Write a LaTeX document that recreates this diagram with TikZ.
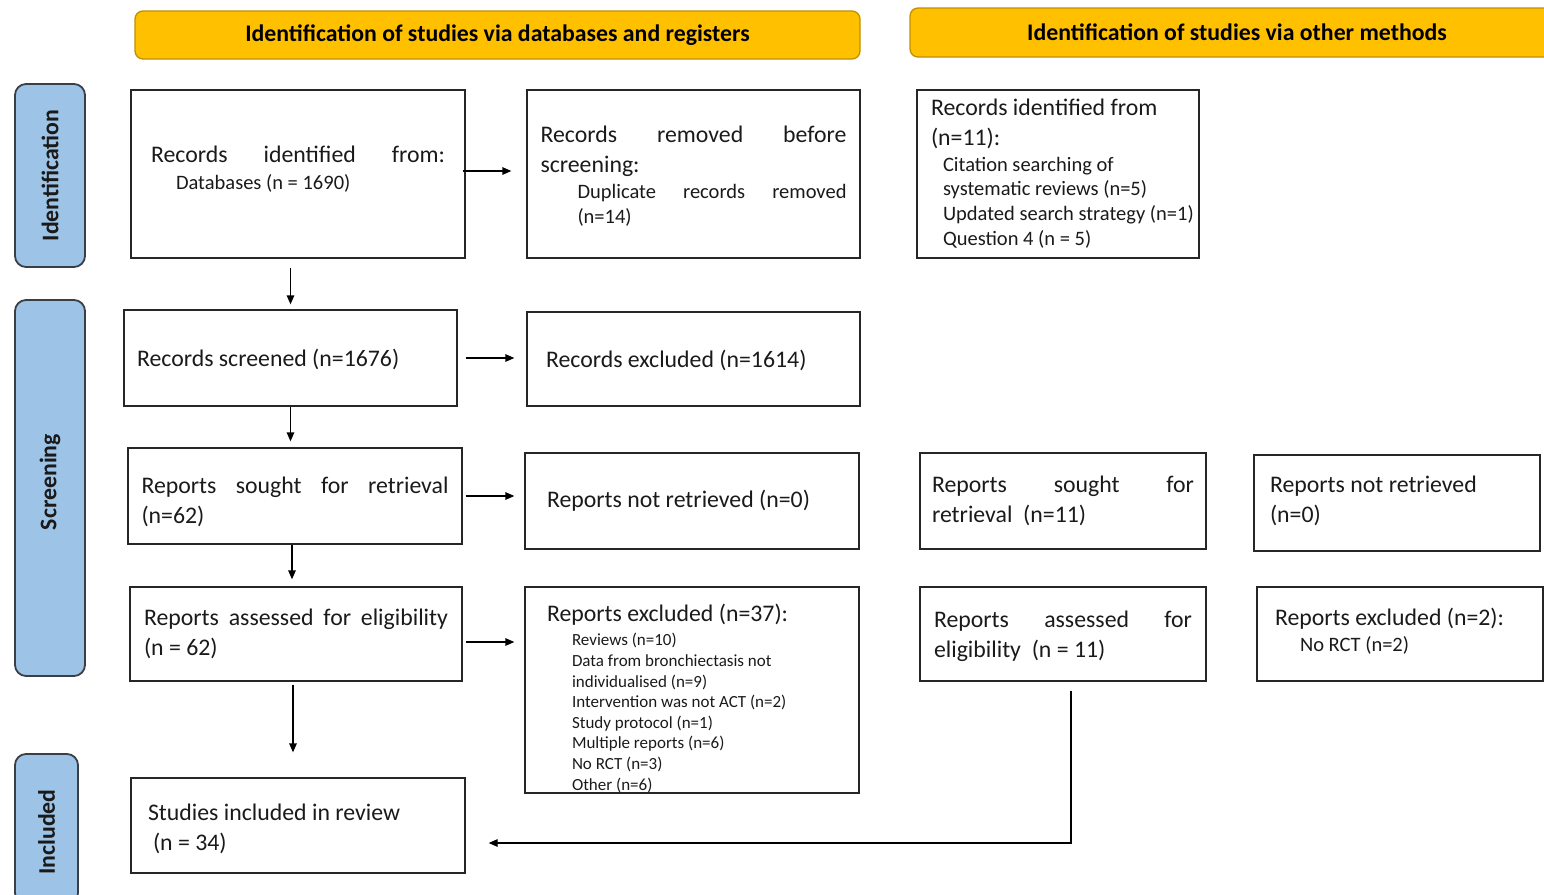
\documentclass[tikz,border=0pt]{standalone}
\usepackage{fontspec}
\setmainfont{Carlito}
\usetikzlibrary{arrows.meta,calc}
\definecolor{hdrfill}{HTML}{FFC000}
\definecolor{hdrline}{HTML}{BF9000}
\definecolor{sidefill}{HTML}{9DC3E6}
\definecolor{sideline}{HTML}{3A3F46}
\definecolor{txt}{HTML}{1A1A1A}
\newcommand{\mainsz}{\fontsize{23.8}{30}\selectfont}
\newcommand{\smallsz}{\fontsize{20.5}{24.6}\selectfont}
\newcommand{\tinysz}{\fontsize{17}{20.6}\selectfont}
\begin{document}
\begin{tikzpicture}[x=1pt,y=-1pt,
  box/.style={draw=black!85, line width=1.3pt, rectangle, inner sep=0pt, align=left, font=\mainsz, text=txt,
    execute at begin node={\spaceskip=0pt\xspaceskip=0pt}},
  hdr/.style={draw=hdrline, fill=hdrfill, line width=1.3pt, rounded corners=8pt, inner sep=0pt, font=\mainsz\bfseries, text=black},
  side/.style={draw=sideline, fill=sidefill, line width=1.8pt, rounded corners=11pt, inner sep=0pt, font=\mainsz\bfseries, text=txt},
  arr/.style={-{Triangle[length=9pt,width=7.5pt]}, line width=1.3pt, draw=black}
]
\useasboundingbox (0,0) rectangle (1544,894);
\clip (0,0) rectangle (1544,894);

% headers
\node[hdr, minimum width=725pt, minimum height=48pt] (h1) at (497.5,35) {Identification of studies via databases and registers};
\node[hdr, minimum width=654pt, minimum height=49pt] (h2) at (1237,32.5) {Identification of studies via other methods};

% side labels
\node[side, rotate=90, minimum width=183pt, minimum height=70pt] (s1) at (50,175.5) {Identification};
\node[side, rotate=90, minimum width=376pt, minimum height=70pt] (s2) at (50,488) {\hspace*{12pt}Screening};
\node[side, rotate=90, minimum width=150pt, minimum height=63pt] (s3) at (46.5,829) {Included\hspace*{6pt}};

% left column
\node[box, minimum width=334pt, minimum height=168pt, text width=294pt] (b1) at (298,174)
  {\makebox[294pt][s]{Records identified from:}\\[2pt]
   \smallsz\hspace*{25pt}Databases (n = 1690)\par\kern10pt};
\node[box, minimum width=333pt, minimum height=96pt, text width=307pt] (b4) at (290.5,358)
  {Records screened (n=1676)\par\kern-4pt};
\node[box, minimum width=334pt, minimum height=96pt, text width=307pt] (b6) at (295,496)
  {\makebox[307pt][s]{Reports sought for retrieval}\\ (n=62)\par\kern-12pt};
\node[box, minimum width=332pt, minimum height=94pt, text width=304pt] (b10) at (296,634)
  {\makebox[304pt][s]{Reports assessed for eligibility}\\ (n = 62)};
\node[box, minimum width=334pt, minimum height=95pt, text width=300pt] (b14) at (298,825.5)
  {Studies included in review\\ \hspace*{5pt}(n = 34)\par\kern-6pt};

% middle column
\node[box, minimum width=333pt, minimum height=168pt, text width=306pt] (b2) at (693.5,174)
  {\makebox[306pt][s]{Records removed before}\\
   screening:\\[1.4pt]
   \smallsz\hspace*{37pt}\makebox[269pt][s]{Duplicate records removed}\\
   \hspace*{37pt}(n=14)\par\kern-4pt};
\node[box, minimum width=333pt, minimum height=94pt, text width=295pt] (b5) at (693.5,359)
  {Records excluded (n=1614)\par\kern-3pt};
\node[box, minimum width=334pt, minimum height=96pt, text width=290pt] (b7) at (692,501)
  {Reports not retrieved (n=0)};
\node[box, minimum width=334pt, minimum height=206pt, text width=290pt] (b11) at (692,690)
  {Reports excluded (n=37):\\[3.4pt]
   \tinysz\hspace*{25pt}Reviews (n=10)\\
   \hspace*{25pt}Data from bronchiectasis not\\
   \hspace*{25pt}individualised (n=9)\\
   \hspace*{25pt}Intervention was not ACT (n=2)\\
   \hspace*{25pt}Study protocol (n=1)\\
   \hspace*{25pt}Multiple reports (n=6)\\
   \hspace*{25pt}No RCT (n=3)\\
   \hspace*{25pt}Other (n=6)\par\kern-17pt};

% right columns
\node[box, minimum width=282pt, minimum height=168pt, text width=254pt] (b3) at (1058,174)
  {Records identified from\\
   (n=11):\\[1pt]
   \smallsz\hspace*{12pt}\mbox{Citation searching of}\\
   \hspace*{12pt}\mbox{systematic reviews (n=5)}\\
   \hspace*{12pt}\mbox{Updated search strategy (n=1)}\\
   \hspace*{12pt}\mbox{Question 4 (n = 5)}\par\kern1pt};
\node[box, minimum width=286pt, minimum height=96pt, text width=262pt] (b8) at (1063,501)
  {\makebox[262pt][s]{Reports sought for}\\ retrieval\ \ (n=11)};
\node[box, minimum width=286pt, minimum height=94pt, text width=258pt] (b12) at (1063,634)
  {\makebox[258pt][s]{Reports assessed for}\\ eligibility\ \ (n = 11)\par\kern-5pt};
\node[box, minimum width=286pt, minimum height=96pt, text width=254pt] (b9) at (1397,503)
  {Reports not retrieved\\ (n=0)\par\kern4pt};
\node[box, minimum width=286pt, minimum height=94pt, text width=250pt] (b13) at (1400,634)
  {Reports excluded (n=2):\\[1.4pt]
   \smallsz\hspace*{25pt}No RCT (n=2)\par\kern6pt};

% connectors
\draw[arr, shorten <=-3pt, shorten >=15pt] ([yshift=3pt]b1.east) -- ([yshift=3pt]b1.east -| b2.west);
\draw[arr, shorten <=8pt, shorten >=12pt] (b4.east) -- (b4.east -| b5.west);
\draw[arr, shorten <=3pt, shorten >=10pt] (b6.east) -- (b6.east -| b7.west);
\draw[arr, shorten <=3pt, shorten >=10pt] ([yshift=-8pt]b10.east) -- ([yshift=-8pt]b10.east -| b11.west);
\draw[arr, shorten <=9pt, shorten >=5pt] (b1.south -| b4.north) -- (b4.north);
\draw[arr, shorten >=6pt] (b4.south) -- (b4.south |- b6.north);
\draw[arr, shorten >=7pt] ([xshift=-3pt]b6.south) -- ([xshift=-3pt]b6.south |- b10.north);
\draw[arr, shorten <=3pt, shorten >=25pt] ([xshift=-3pt]b10.south) -- ([xshift=-3pt]b10.south |- b14.north);
\draw[arr, shorten <=9pt, shorten >=23pt] ([xshift=8pt]b12.south) |- ([yshift=-17.5pt]b14.east);
\end{tikzpicture}
\end{document}
